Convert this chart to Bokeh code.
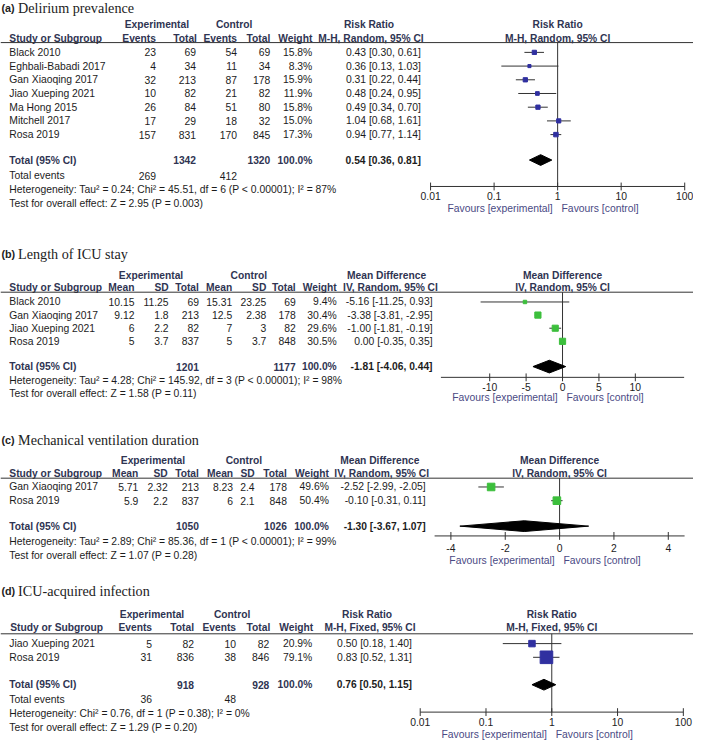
import math
from bokeh.plotting import figure
from bokeh.models import Range1d, LogScale, LinearScale
from bokeh.core.properties import value
from bokeh.embed import file_html
from bokeh.resources import INLINE

# ---------------- data ----------------
# (a) Delirium prevalence
a_studies = ["Black 2010", "Eghbali-Babadi 2017", "Gan Xiaoqing 2017", "Jiao Xueping 2021",
             "Ma Hong 2015", "Mitchell 2017", "Rosa 2019"]
a_exp_events = [23, 4, 32, 10, 26, 17, 157]
a_exp_total = [69, 34, 213, 82, 84, 29, 831]
a_ctl_events = [54, 11, 87, 21, 51, 18, 170]
a_ctl_total = [69, 34, 178, 82, 80, 32, 845]
a_weight = [15.8, 8.3, 15.9, 11.9, 15.8, 15.0, 17.3]
a_est = [0.43, 0.36, 0.31, 0.48, 0.49, 1.04, 0.94]
a_lo = [0.30, 0.13, 0.22, 0.24, 0.34, 0.68, 0.77]
a_hi = [0.61, 1.03, 0.44, 0.95, 0.70, 1.61, 1.14]
a_pooled = [0.54, 0.36, 0.81]
a_totals = [1342, 1320]
a_total_events = [269, 412]
a_het = "Heterogeneity: Tau\u00b2 = 0.24; Chi\u00b2 = 45.51, df = 6 (P < 0.00001); I\u00b2 = 87%"
a_test = "Test for overall effect: Z = 2.95 (P = 0.003)"
a_ticks = [0.01, 0.1, 1, 10, 100]
a_tick_labels = ["0.01", "0.1", "1", "10", "100"]
a_axis = [0.01, 100]

# (b) Length of ICU stay
b_studies = ["Black 2010", "Gan Xiaoqing 2017", "Jiao Xueping 2021", "Rosa 2019"]
b_exp_mean = [10.15, 9.12, 6, 5]
b_exp_sd = [11.25, 1.8, 2.2, 3.7]
b_exp_total = [69, 213, 82, 837]
b_ctl_mean = [15.31, 12.5, 7, 5]
b_ctl_sd = [23.25, 2.38, 3, 3.7]
b_ctl_total = [69, 178, 82, 848]
b_weight = [9.4, 30.4, 29.6, 30.5]
b_est = [-5.16, -3.38, -1.00, 0.00]
b_lo = [-11.25, -3.81, -1.81, -0.35]
b_hi = [0.93, -2.95, -0.19, 0.35]
b_pooled = [-1.81, -4.06, 0.44]
b_totals = [1201, 1177]
b_het = "Heterogeneity: Tau\u00b2 = 4.28; Chi\u00b2 = 145.92, df = 3 (P < 0.00001); I\u00b2 = 98%"
b_test = "Test for overall effect: Z = 1.58 (P = 0.11)"
b_ticks = [-10, -5, 0, 5, 10]
b_tick_labels = ["-10", "-5", "0", "5", "10"]
b_axis = [-16.7, 16.7]

# (c) Mechanical ventilation duration
c_studies = ["Gan Xiaoqing 2017", "Rosa 2019"]
c_exp_mean = [5.71, 5.9]
c_exp_sd = [2.32, 2.2]
c_exp_total = [213, 837]
c_ctl_mean = [8.23, 6]
c_ctl_sd = [2.4, 2.1]
c_ctl_total = [178, 848]
c_weight = [49.6, 50.4]
c_est = [-2.52, -0.10]
c_lo = [-2.99, -0.31]
c_hi = [-2.05, 0.11]
c_pooled = [-1.30, -3.67, 1.07]
c_totals = [1050, 1026]
c_het = "Heterogeneity: Tau\u00b2 = 2.89; Chi\u00b2 = 85.36, df = 1 (P < 0.00001); I\u00b2 = 99%"
c_test = "Test for overall effect: Z = 1.07 (P = 0.28)"
c_ticks = [-4, -2, 0, 2, 4]
c_tick_labels = ["-4", "-2", "0", "2", "4"]
c_axis = [-4.6, 4.6]

# (d) ICU-acquired infection
d_studies = ["Jiao Xueping 2021", "Rosa 2019"]
d_exp_events = [5, 31]
d_exp_total = [82, 836]
d_ctl_events = [10, 38]
d_ctl_total = [82, 846]
d_weight = [20.9, 79.1]
d_est = [0.50, 0.83]
d_lo = [0.18, 0.52]
d_hi = [1.40, 1.31]
d_pooled = [0.76, 0.50, 1.15]
d_totals = [918, 928]
d_total_events = [36, 48]
d_het = "Heterogeneity: Chi\u00b2 = 0.76, df = 1 (P = 0.38); I\u00b2 = 0%"
d_test = "Test for overall effect: Z = 1.29 (P = 0.20)"
d_ticks = [0.01, 0.1, 1, 10, 100]
d_tick_labels = ["0.01", "0.1", "1", "10", "100"]
d_axis = [0.01, 100]

# ---------------- styling / layout ----------------
W, H = 709, 756
CW, CH = 693, 740
S = CW / W
SANS = "Liberation Sans"
SERIF = "Liberation Serif"
HDR = "#2f3452"
TXT = "#1c1c1c"
FAV = "#4a4a84"
LINE = "#333333"
BLUE = "#3030a0"
GREEN = "#3cbf3c"
REG = 10.6
BOLD = 10.5

forest_cfg = {
    "a": dict(log=True, origin=570, scale=65.0),
    "b": dict(log=False, origin=575, scale=7.45),
    "c": dict(log=False, origin=572, scale=27.8),
    "d": dict(log=True, origin=564, scale=67.3),
}

p = figure(width=CW, height=CH, x_range=Range1d(0, W), y_range=Range1d(H, 0),
           x_axis_location=None, y_axis_location=None, min_border=0,
           output_backend="svg", toolbar_location=None)
p.grid.visible = False
p.outline_line_color = None
p.background_fill_color = "white"

ranges, scales = {}, {}
for k, c in forest_cfg.items():
    lo = (0 - c["origin"]) / c["scale"]
    hi = (W - c["origin"]) / c["scale"]
    if c["log"]:
        ranges[k] = Range1d(10 ** lo, 10 ** hi)
        scales[k] = LogScale()
    else:
        ranges[k] = Range1d(lo, hi)
        scales[k] = LinearScale()
p.extra_x_ranges = ranges
p.extra_x_scales = scales


def fs(v):
    return f"{v * S:.2f}px"


def text(x, y, t, align="left", bold=False, color=TXT, size=None, font=SANS, xr=None, dx=0):
    t = list(t)
    n = len(t)
    if size is None:
        size = BOLD if bold else REG
    if not isinstance(x, (list, tuple)):
        x = [x] * n
    if not isinstance(y, (list, tuple)):
        y = [y] * n
    kw = dict(x_range_name=xr) if xr else {}
    p.text(x=list(x), y=list(y), text=t, text_align=align, text_baseline="middle",
           text_font=value(font), text_font_size=fs(size),
           text_font_style="bold" if bold else "normal", text_color=color,
           x_offset=dx * S, **kw)


def title(letter, name, y):
    text(1, y, [letter], bold=True, size=11, color="#222222")
    text(18, y, [name], font=SERIF, size=14.5, color="#222222")


def hline(y):
    p.segment(x0=[0], y0=[y], x1=[W], y1=[y], line_color=LINE, line_width=1)


def forest(key, L, ys, est, lo, hi, weight, k, color, pooled, hh, null, axis_ext,
           ticks, labels, hdr_a, hdr_b):
    # confidence intervals
    p.segment(x0=lo, y0=ys, x1=hi, y1=ys, x_range_name=key, line_color=LINE, line_width=1)
    # null line
    p.segment(x0=[null], y0=[L["line"]], x1=[null], y1=[L["axis"]], x_range_name=key,
              line_color=LINE, line_width=1)
    # study squares
    p.scatter(x=est, y=ys, size=[k * math.sqrt(w) * S for w in weight], marker="square",
              fill_color=color, line_color=color, x_range_name=key)
    # pooled diamond
    ty = L["total"]
    p.patch(x=[pooled[1], pooled[0], pooled[2], pooled[0]],
            y=[ty, ty - hh, ty, ty + hh], x_range_name=key,
            fill_color="black", line_color="black", line_width=1)
    # axis
    ay = L["axis"]
    p.segment(x0=[axis_ext[0]], y0=[ay], x1=[axis_ext[1]], y1=[ay], x_range_name=key,
              line_color=LINE, line_width=1)
    n = len(ticks)
    p.segment(x0=ticks, y0=[ay - 4] * n, x1=ticks, y1=[ay + 4] * n, x_range_name=key,
              line_color=LINE, line_width=1)
    text(list(ticks), L["tick"], labels, align="center", xr=key)
    text([null], L["fav"], ["Favours [experimental]"], align="right", xr=key, dx=-5, color=FAV)
    text([null], L["fav"], ["Favours [control]"], align="left", xr=key, dx=4, color=FAV)
    # headers
    text([null], L["h1"], [hdr_a], align="center", xr=key, bold=True, color=HDR)
    text([null], L["h2"], [hdr_b], align="center", xr=key, bold=True, color=HDR)


def g(v):
    return f"{v:g}"


def ci(e, l, h):
    return [f"{a:.2f} [{b:.2f}, {c:.2f}]" for a, b, c in zip(e, l, h)]


def pct(ws):
    return [f"{w:.1f}%" for w in ws]


# ---------------- panel (a) ----------------
LA = dict(title=8, h1=25, h2=39, line=43, row0=53, step=14, total=163, events=179,
          het=193, test=207, axis=190, tick=200, fav=212)
title("(a)", "Delirium prevalence", LA["title"])
text(160, LA["h1"], ["Experimental"], align="center", bold=True, color=HDR)
text(239, LA["h1"], ["Control"], align="center", bold=True, color=HDR)
text(377, LA["h1"], ["Risk Ratio"], align="center", bold=True, color=HDR)
text(9, LA["h2"], ["Study or Subgroup"], bold=True, color=HDR)
text([159, 201, 242, 276, 319], LA["h2"], ["Events", "Total", "Events", "Total", "Weight"],
     align="right", bold=True, color=HDR)
text(379, LA["h2"], ["M-H, Random, 95% CI"], align="center", bold=True, color=HDR)
hline(LA["line"])
ya = [LA["row0"] + i * LA["step"] for i in range(len(a_studies))]
text(9, ya, a_studies)
text(159, ya, [str(v) for v in a_exp_events], align="right")
text(200, ya, [str(v) for v in a_exp_total], align="right")
text(242, ya, [str(v) for v in a_ctl_events], align="right")
text(276, ya, [str(v) for v in a_ctl_total], align="right")
text(319, ya, pct(a_weight), align="right")
text(430, ya, ci(a_est, a_lo, a_hi), align="right")
text(9, LA["total"], ["Total (95% CI)"], bold=True, color=HDR)
text([200, 276, 319], LA["total"], [str(a_totals[0]), str(a_totals[1]), "100.0%"],
     align="right", bold=True, color=HDR)
text(430, LA["total"], ci([a_pooled[0]], [a_pooled[1]], [a_pooled[2]]), align="right", bold=True)
text(9, LA["events"], ["Total events"])
text([159, 242], LA["events"], [str(v) for v in a_total_events], align="right")
text(9, LA["het"], [a_het])
text(9, LA["test"], [a_test])
forest("a", LA, ya, a_est, a_lo, a_hi, a_weight, 1.1, BLUE, a_pooled, 5.5, 1, a_axis,
       a_ticks, a_tick_labels, "Risk Ratio", "M-H, Random, 95% CI")

# ---------------- panel (b) ----------------
LB = dict(title=259, h1=281, h2=293, line=298, row0=308, step=13.4, total=374,
          het=388, test=402, axis=385, tick=395, fav=406)
title("(b)", "Length of ICU stay", LB["title"])
text(154, LB["h1"], ["Experimental"], align="center", bold=True, color=HDR)
text(254, LB["h1"], ["Control"], align="center", bold=True, color=HDR)
text(395, LB["h1"], ["Mean Difference"], align="center", bold=True, color=HDR)
text(9, LB["h2"], ["Study or Subgroup"], bold=True, color=HDR)
text([137, 172, 203, 237, 272, 302, 344], LB["h2"],
     ["Mean", "SD", "Total", "Mean", "SD", "Total", "Weight"], align="right", bold=True, color=HDR)
text(399, LB["h2"], ["IV, Random, 95% CI"], align="center", bold=True, color=HDR)
hline(LB["line"])
yb = [LB["row0"] + i * LB["step"] for i in range(len(b_studies))]
text(9, yb, b_studies)
text(137, yb, [g(v) for v in b_exp_mean], align="right")
text(172, yb, [g(v) for v in b_exp_sd], align="right")
text(203, yb, [str(v) for v in b_exp_total], align="right")
text(237, yb, [g(v) for v in b_ctl_mean], align="right")
text(272, yb, [g(v) for v in b_ctl_sd], align="right")
text(302, yb, [str(v) for v in b_ctl_total], align="right")
text(344, yb, pct(b_weight), align="right")
text(442, yb, ci(b_est, b_lo, b_hi), align="right")
text(9, LB["total"], ["Total (95% CI)"], bold=True, color=HDR)
text([203, 302, 344], LB["total"], [str(b_totals[0]), str(b_totals[1]), "100.0%"],
     align="right", bold=True, color=HDR)
text(442, LB["total"], ci([b_pooled[0]], [b_pooled[1]], [b_pooled[2]]), align="right", bold=True)
text(9, LB["het"], [b_het])
text(9, LB["test"], [b_test])
forest("b", LB, yb, b_est, b_lo, b_hi, b_weight, 1.15, GREEN, b_pooled, 6.5, 0, b_axis,
       b_ticks, b_tick_labels, "Mean Difference", "IV, Random, 95% CI")

# ---------------- panel (c) ----------------
LC = dict(title=449, h1=470, h2=483, line=488, row0=497, step=14, total=537,
          het=553, test=567, axis=547, tick=559, fav=572)
title("(c)", "Mechanical ventilation duration", LC["title"])
text(156, LC["h1"], ["Experimental"], align="center", bold=True, color=HDR)
text(249, LC["h1"], ["Control"], align="center", bold=True, color=HDR)
text(388, LC["h1"], ["Mean Difference"], align="center", bold=True, color=HDR)
text(9, LC["h2"], ["Study or Subgroup"], bold=True, color=HDR)
text([141, 171, 203, 238, 260, 293, 336], LC["h2"],
     ["Mean", "SD", "Total", "Mean", "SD", "Total", "Weight"], align="right", bold=True, color=HDR)
text(390, LC["h2"], ["IV, Random, 95% CI"], align="center", bold=True, color=HDR)
hline(LC["line"])
yc = [LC["row0"] + i * LC["step"] for i in range(len(c_studies))]
text(9, yc, c_studies)
text(141, yc, [g(v) for v in c_exp_mean], align="right")
text(171, yc, [g(v) for v in c_exp_sd], align="right")
text(203, yc, [str(v) for v in c_exp_total], align="right")
text(238, yc, [g(v) for v in c_ctl_mean], align="right")
text(260, yc, [g(v) for v in c_ctl_sd], align="right")
text(293, yc, [str(v) for v in c_ctl_total], align="right")
text(336, yc, pct(c_weight), align="right")
text(435, yc, ci(c_est, c_lo, c_hi), align="right")
text(9, LC["total"], ["Total (95% CI)"], bold=True, color=HDR)
text([203, 293, 336], LC["total"], [str(c_totals[0]), str(c_totals[1]), "100.0%"],
     align="right", bold=True, color=HDR)
text(435, LC["total"], ci([c_pooled[0]], [c_pooled[1]], [c_pooled[2]]), align="right", bold=True)
text(9, LC["het"], [c_het])
text(9, LC["test"], [c_test])
forest("c", LC, yc, c_est, c_lo, c_hi, c_weight, 1.1, GREEN, c_pooled, 5.5, 0, c_axis,
       c_ticks, c_tick_labels, "Mean Difference", "IV, Random, 95% CI")

# ---------------- panel (d) ----------------
LD = dict(title=603, h1=627, h2=641, line=647, row0=657, step=14, total=699, events=714,
          het=728, test=743, axis=727, tick=737, fav=750)
title("(d)", "ICU-acquired infection", LD["title"])
text(155, LD["h1"], ["Experimental"], align="center", bold=True, color=HDR)
text(237, LD["h1"], ["Control"], align="center", bold=True, color=HDR)
text(375, LD["h1"], ["Risk Ratio"], align="center", bold=True, color=HDR)
text(10, LD["h2"], ["Study or Subgroup"], bold=True, color=HDR)
text([155, 198, 241, 276, 320], LD["h2"], ["Events", "Total", "Events", "Total", "Weight"],
     align="right", bold=True, color=HDR)
text(378, LD["h2"], ["M-H, Fixed, 95% CI"], align="center", bold=True, color=HDR)
hline(LD["line"])
yd = [LD["row0"] + i * LD["step"] for i in range(len(d_studies))]
text(9, yd, d_studies)
text(155, yd, [str(v) for v in d_exp_events], align="right")
text(198, yd, [str(v) for v in d_exp_total], align="right")
text(241, yd, [str(v) for v in d_ctl_events], align="right")
text(275, yd, [str(v) for v in d_ctl_total], align="right")
text(319, yd, pct(d_weight), align="right")
text(421, yd, ci(d_est, d_lo, d_hi), align="right")
text(9, LD["total"], ["Total (95% CI)"], bold=True, color=HDR)
text([198, 275, 319], LD["total"], [str(d_totals[0]), str(d_totals[1]), "100.0%"],
     align="right", bold=True, color=HDR)
text(421, LD["total"], ci([d_pooled[0]], [d_pooled[1]], [d_pooled[2]]), align="right", bold=True)
text(9, LD["events"], ["Total events"])
text([155, 241], LD["events"], [str(v) for v in d_total_events], align="right")
text(9, LD["het"], [d_het])
text(9, LD["test"], [d_test])
forest("d", LD, yd, d_est, d_lo, d_hi, d_weight, 1.45, BLUE, d_pooled, 5.5, 1, d_axis,
       d_ticks, d_tick_labels, "Risk Ratio", "M-H, Fixed, 95% CI")

open("out.html", "w").write(file_html(p, INLINE))
